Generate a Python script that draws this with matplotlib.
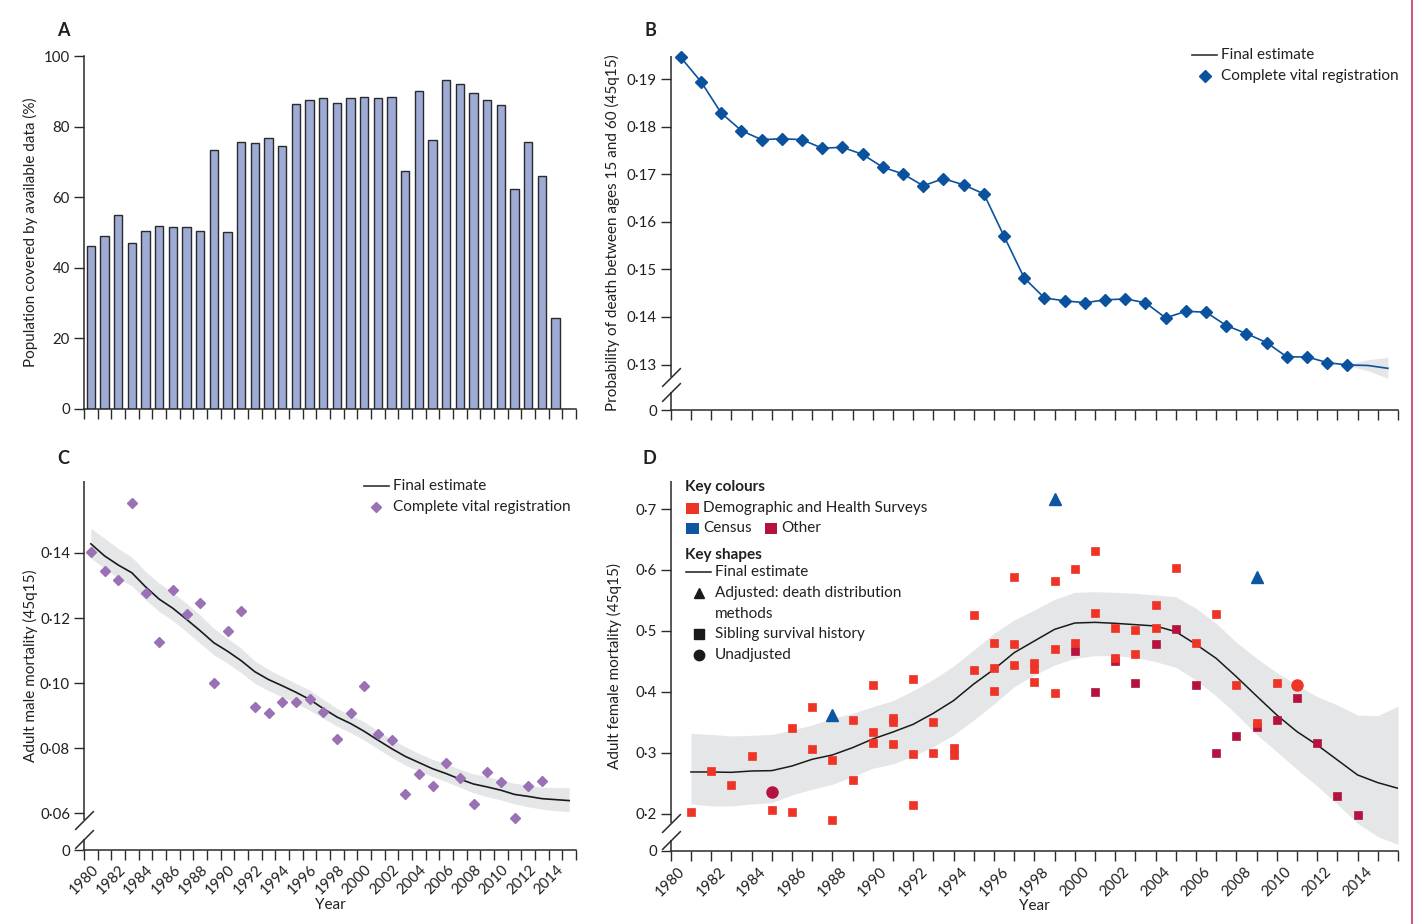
import matplotlib
matplotlib.use("Agg")
import matplotlib.pyplot as plt
from matplotlib.lines import Line2D
from matplotlib.patches import Rectangle

plt.rcParams['font.family'] = ['Lato', 'DejaVu Sans']

# ---------------- data ----------------
# Panel A: population covered by available data (%), 1980-2014
a_years = list(range(1980, 2015))
a_coverage = [46.0, 49.0, 55.0, 47.0, 50.3, 51.8, 51.4, 51.5, 50.3, 73.3,
              50.0, 75.5, 75.3, 76.7, 74.5, 86.3, 87.4, 88.0, 86.7, 88.2,
              88.5, 88.0, 88.3, 67.3, 90.2, 76.1, 93.3, 92.1, 89.4, 87.6,
              86.1, 62.3, 75.6, 66.0, 25.8]

# Panel B: 45q15 both sexes, complete vital registration & final estimate
b_vr_years = list(range(1980, 2014))
b_vr = [0.1946, 0.1895, 0.1829, 0.1792, 0.1773, 0.1775, 0.1773, 0.1755, 0.1757, 0.1742,
        0.1715, 0.1701, 0.1676, 0.1691, 0.1678, 0.1659, 0.1570, 0.1482, 0.1440, 0.1434,
        0.1430, 0.1436, 0.1438, 0.1430, 0.1398, 0.1412, 0.1410, 0.1382, 0.1365, 0.1346,
        0.1316, 0.1316, 0.1304, 0.1299]
b_est_years = list(range(1980, 2016))
b_est = [0.1946, 0.1895, 0.1829, 0.1792, 0.1773, 0.1775, 0.1773, 0.1755, 0.1757, 0.1742,
         0.1715, 0.1701, 0.1676, 0.1691, 0.1678, 0.1659, 0.1570, 0.1482, 0.1440, 0.1434,
         0.1430, 0.1436, 0.1438, 0.1430, 0.1398, 0.1412, 0.1410, 0.1382, 0.1365, 0.1346,
         0.1316, 0.1316, 0.1304, 0.1299, 0.1298, 0.1292]
b_band_years = [2013, 2014, 2015]
b_band_low = [0.1298, 0.1287, 0.1271]
b_band_high = [0.1300, 0.1310, 0.1315]

# Panel C: adult male mortality
c_vr_years = list(range(1980, 2014))
c_vr = [0.1402, 0.1344, 0.1316, 0.1552, 0.1276, 0.1127, 0.1287, 0.1212, 0.1246, 0.0999,
        0.1159, 0.1223, 0.0928, 0.0908, 0.0942, 0.0941, 0.0951, 0.0912, 0.0828, 0.0909,
        0.0992, 0.0843, 0.0826, 0.0658, 0.0720, 0.0685, 0.0755, 0.0707, 0.0630, 0.0727,
        0.0696, 0.0586, 0.0684, 0.0698]
c_est_years = list(range(1980, 2016))
c_est = [0.1428, 0.1391, 0.1363, 0.1339, 0.1296, 0.1258, 0.1230, 0.1196, 0.1161, 0.1124,
         0.1098, 0.1069, 0.1035, 0.1011, 0.0992, 0.0972, 0.0950, 0.0922, 0.0896, 0.0876,
         0.0852, 0.0825, 0.0799, 0.0775, 0.0756, 0.0737, 0.0722, 0.0705, 0.0690, 0.0681,
         0.0671, 0.0658, 0.0652, 0.0645, 0.0642, 0.0639]
c_upper = [0.1476, 0.1445, 0.1414, 0.1387, 0.1343, 0.1307, 0.1278, 0.1245, 0.1209, 0.1168,
           0.1137, 0.1107, 0.1068, 0.1042, 0.1020, 0.0999, 0.0979, 0.0950, 0.0923, 0.0902,
           0.0881, 0.0854, 0.0827, 0.0805, 0.0784, 0.0766, 0.0752, 0.0735, 0.0721, 0.0713,
           0.0702, 0.0692, 0.0687, 0.0680, 0.0679, 0.0679]
c_lower = [0.1384, 0.1353, 0.1322, 0.1299, 0.1256, 0.1220, 0.1192, 0.1158, 0.1122, 0.1087,
           0.1061, 0.1032, 0.0999, 0.0977, 0.0958, 0.0938, 0.0917, 0.0892, 0.0868, 0.0848,
           0.0825, 0.0798, 0.0772, 0.0748, 0.0730, 0.0713, 0.0697, 0.0680, 0.0663, 0.0651,
           0.0641, 0.0629, 0.0620, 0.0613, 0.0608, 0.0605]

# Panel D: adult female mortality
d_est_years = list(range(1981, 2017))
d_est = [0.2684, 0.2684, 0.2678, 0.2700, 0.2706, 0.2782, 0.2892, 0.2963, 0.3083, 0.3225,
         0.3340, 0.3466, 0.3647, 0.3855, 0.4128, 0.4369, 0.4642, 0.4834, 0.5025, 0.5129,
         0.5140, 0.5124, 0.5102, 0.5080, 0.4987, 0.4779, 0.4549, 0.4248, 0.3931, 0.3619,
         0.3346, 0.3127, 0.2881, 0.2635, 0.2509, 0.2416]
d_upper = [0.3318, 0.3300, 0.3275, 0.3286, 0.3300, 0.3373, 0.3455, 0.3565, 0.3647, 0.3756,
           0.3855, 0.4019, 0.4205, 0.4423, 0.4686, 0.4960, 0.5178, 0.5342, 0.5518, 0.5632,
           0.5643, 0.5632, 0.5616, 0.5589, 0.5561, 0.5370, 0.5124, 0.4812, 0.4549, 0.4314,
           0.4112, 0.3920, 0.3783, 0.3619, 0.3608, 0.3767]
d_lower = [0.2159, 0.2126, 0.2126, 0.2159, 0.2181, 0.2307, 0.2400, 0.2481, 0.2607, 0.2744,
           0.2815, 0.2946, 0.3100, 0.3291, 0.3537, 0.3800, 0.4084, 0.4276, 0.4440, 0.4549,
           0.4593, 0.4593, 0.4566, 0.4495, 0.4402, 0.4194, 0.3931, 0.3630, 0.3302, 0.3017,
           0.2728, 0.2454, 0.2154, 0.1842, 0.1623, 0.1497]
d_dhs_years = [1981, 1982, 1983, 1984, 1985, 1986, 1986, 1987, 1987, 1988, 1988, 1989, 1989,
               1990, 1990, 1990, 1991, 1991, 1991, 1992, 1992, 1992, 1993, 1993, 1994, 1994,
               1995, 1995, 1996, 1996, 1996, 1997, 1997, 1997, 1998, 1998, 1998, 1999, 1999,
               1999, 2000, 2000, 2001, 2001, 2002, 2002, 2003, 2003, 2004, 2004, 2005, 2006,
               2007, 2008, 2009, 2010]
d_dhs_vals = [0.2019, 0.2703, 0.2463, 0.2944, 0.2052, 0.2019, 0.3410, 0.3754, 0.3059, 0.2884,
              0.1893, 0.3530, 0.2560, 0.4110, 0.3344, 0.3152, 0.3563, 0.3510, 0.3150, 0.4203,
              0.2983, 0.2150, 0.3503, 0.2994, 0.3080, 0.2960, 0.5254, 0.4356, 0.4794, 0.4395,
              0.4017, 0.5878, 0.4783, 0.4438, 0.4477, 0.4378, 0.4159, 0.5818, 0.4696, 0.3979,
              0.6009, 0.4794, 0.6316, 0.5287, 0.5040, 0.4553, 0.5013, 0.4625, 0.5424, 0.5051,
              0.6026, 0.4805, 0.5276, 0.4105, 0.3481, 0.4137]
d_dhs_unadj_years = [2011]
d_dhs_unadj_vals = [0.4110]
d_other_years = [2000, 2001, 2002, 2003, 2004, 2005, 2006, 2007, 2008, 2009, 2010, 2011,
                 2012, 2013, 2014]
d_other_vals = [0.4674, 0.3990, 0.4504, 0.4137, 0.4783, 0.5024, 0.4110, 0.2999, 0.3273,
                0.3415, 0.3535, 0.3891, 0.3152, 0.2293, 0.1975]
d_other_unadj_years = [1985]
d_other_unadj_vals = [0.2359]
d_census_years = [1988, 1999, 2009]
d_census_vals = [0.3617, 0.7159, 0.5889]

year_labels = [str(y) if y % 2 == 0 and y <= 2014 else '' for y in range(1980, 2017)]

# ---------------- style ----------------
W, H = 1418, 924
TXT = '#231f20'
AX = '#2a2a2a'
BAR = '#9eabd5'
BLUE = '#0b529e'
PURPLE = '#9b71b6'
RED = '#ee3427'
CRIMSON = '#b5133f'
CENSUS = '#0d56a2'
BAND = '#e5e6e8'
FS = 11
TFS = 10.8

fig = plt.figure(figsize=(W / 100, H / 100), dpi=100)


def px_axes(left, top, right, bottom):
    return fig.add_axes([left / W, 1 - bottom / H, (right - left) / W, (bottom - top) / H])


def fx(x):
    return x / W


def fy(y):
    return 1 - y / H


def style(ax, ylo, yhi):
    ax.set_xlim(1980, 2016)
    ax.set_ylim(ylo, yhi)
    for s in ('top', 'right'):
        ax.spines[s].set_visible(False)
    for s in ('left', 'bottom'):
        ax.spines[s].set_color(AX)
        ax.spines[s].set_linewidth(1.1)
    ax.tick_params(axis='both', direction='out', length=7, width=1, color=AX,
                   labelsize=TFS, labelcolor=TXT, pad=3)
    ax.set_xticks(range(1980, 2017))
    ax.patch.set_alpha(0)


def broken_left(ax, ylo, yhi, off_low, off_high, height_px):
    ax.spines['left'].set_visible(False)
    ppu = height_px / (yhi - ylo)
    g1 = ylo + off_low / ppu
    g2 = ylo + off_high / ppu
    tr = ax.get_yaxis_transform()
    ax.plot([0, 0], [ylo, g1], transform=tr, color=AX, lw=1.1, clip_on=False,
            solid_capstyle='butt')
    ax.plot([0, 0], [g2, yhi], transform=tr, color=AX, lw=1.1, clip_on=False,
            solid_capstyle='butt')
    ax.plot([0, 0], [g1, g2], transform=tr, ls='none', marker=[(-1, -1), (1, 1)],
            ms=13.5, mec=AX, mew=1.1, clip_on=False)


def ylab(ax, text, xfrac):
    ax.set_ylabel(text, fontsize=FS, color=TXT)
    ax.yaxis.set_label_coords(xfrac, 0.5)
    ax.yaxis.label.set_va('center')


def xlab(ax, yfrac):
    ax.set_xlabel('Year', fontsize=FS, color=TXT)
    ax.xaxis.set_label_coords(0.5, yfrac)
    ax.xaxis.label.set_va('center')


def fmt(v, nd):
    return ('{:.%df}' % nd).format(v).replace('.', '\u00b7')


# ---------------- Panel A ----------------
axA = px_axes(84, 56, 576, 408.7)
style(axA, 0, 100)
axA.bar([y + 0.5 for y in a_years], a_coverage, width=0.6, color=BAR,
        edgecolor=AX, linewidth=1.0, zorder=2)
axA.set_yticks([0, 20, 40, 60, 80, 100])
axA.set_xticklabels([])
ylab(axA, 'Population covered by available data (%)', -54 / 492)
fig.text(fx(63), fy(30.5), 'A', fontsize=13, fontweight='bold', color=TXT,
         ha='center', va='center')

# ---------------- Panel B ----------------
bylo, byhi = 0.12043, 0.1949
axB = px_axes(670.7, 56, 1398, 410)
style(axB, bylo, byhi)
broken_left(axB, bylo, byhi, 18, 33.3, 354)
axB.fill_between([y + 0.5 for y in b_band_years], b_band_low, b_band_high,
                 color=BAND, lw=0, zorder=1)
axB.plot([y + 0.5 for y in b_est_years], b_est, color=BLUE, lw=1.2, zorder=2)
axB.plot([y + 0.5 for y in b_vr_years], b_vr, ls='none', marker='D', ms=5.9,
         color=BLUE, mec=BLUE, zorder=3, clip_on=False)
bt = [bylo, 0.13, 0.14, 0.15, 0.16, 0.17, 0.18, 0.19]
axB.set_yticks(bt)
axB.set_yticklabels(['0'] + [fmt(v, 2) for v in bt[1:]])
axB.set_xticklabels([])
ylab(axB, 'Probability of death between ages 15 and 60 (45q15)', -58 / 727.3)
fig.text(fx(650), fy(30.5), 'B', fontsize=13, fontweight='bold', color=TXT,
         ha='center', va='center')
# legend B
fig.add_artist(Line2D([fx(1192), fx(1217)], [fy(55), fy(55)], color='#333333', lw=1.2,
                      transform=fig.transFigure))
fig.text(fx(1221), fy(55), 'Final estimate', fontsize=FS, color=TXT, va='center')
fig.add_artist(Line2D([fx(1204.5)], [fy(76)], ls='none', marker='D', ms=5.9, color=BLUE,
                      transform=fig.transFigure))
fig.text(fx(1221), fy(76), 'Complete vital registration', fontsize=FS, color=TXT,
         va='center')

# ---------------- Panel C ----------------
cylo, cyhi = 0.04863, 0.1621
axC = px_axes(84, 481, 576, 850.3)
style(axC, cylo, cyhi)
broken_left(axC, cylo, cyhi, 11.3, 29.8, 369.3)
axC.fill_between([y + 0.5 for y in c_est_years], c_lower, c_upper, color=BAND, lw=0,
                 zorder=1)
axC.plot([y + 0.5 for y in c_est_years], c_est, color='#1a1a1a', lw=1.2, zorder=2)
axC.plot([y + 0.5 for y in c_vr_years], c_vr, ls='none', marker='D', ms=4.6,
         color=PURPLE, mec=PURPLE, zorder=3)
ct = [cylo, 0.06, 0.08, 0.10, 0.12, 0.14]
axC.set_yticks(ct)
axC.set_yticklabels(['0'] + [fmt(v, 2) for v in ct[1:]])
axC.set_xticklabels(year_labels, rotation=45, ha='center')
axC.tick_params(axis='x', pad=2)
ylab(axC, 'Adult male mortality (45q15)', -54 / 492)
xlab(axC, -(905 - 850.3) / 369.3)
fig.text(fx(63), fy(458.5), 'C', fontsize=13, fontweight='bold', color=TXT,
         ha='center', va='center')
fig.add_artist(Line2D([fx(364), fx(389)], [fy(486), fy(486)], color='#333333', lw=1.2,
                      transform=fig.transFigure))
fig.text(fx(393), fy(486), 'Final estimate', fontsize=FS, color=TXT, va='center')
fig.add_artist(Line2D([fx(376.5)], [fy(507)], ls='none', marker='D', ms=5.2, color=PURPLE,
                      transform=fig.transFigure))
fig.text(fx(393), fy(507), 'Complete vital registration', fontsize=FS, color=TXT,
         va='center')

# ---------------- Panel D ----------------
dylo, dyhi = 0.1387, 0.746
axD = px_axes(670.7, 481, 1398, 851)
style(axD, dylo, dyhi)
broken_left(axD, dylo, dyhi, 11, 28.5, 370)
axD.fill_between(d_est_years, d_lower, d_upper, color=BAND, lw=0, zorder=1)
axD.plot(d_est_years, d_est, color='#1a1a1a', lw=1.1, zorder=2)
axD.plot(d_other_years, d_other_vals, ls='none', marker='s', ms=6.4, color=CRIMSON,
         mec=CRIMSON, mew=0.5, zorder=3)
axD.plot(d_dhs_years, d_dhs_vals, ls='none', marker='s', ms=6.4, color=RED,
         mec=RED, mew=0.5, zorder=4)
axD.plot(d_other_unadj_years, d_other_unadj_vals, ls='none', marker='o', ms=8,
         color=CRIMSON, zorder=5)
axD.plot(d_dhs_unadj_years, d_dhs_unadj_vals, ls='none', marker='o', ms=8,
         color=RED, zorder=5)
axD.plot(d_census_years, d_census_vals, ls='none', marker='^', ms=8.5,
         color=CENSUS, zorder=5)
dt = [dylo, 0.2, 0.3, 0.4, 0.5, 0.6, 0.7]
axD.set_yticks(dt)
axD.set_yticklabels(['0'] + [fmt(v, 1) for v in dt[1:]])
axD.set_xticklabels(year_labels, rotation=45, ha='center')
axD.tick_params(axis='x', pad=3)
ylab(axD, 'Adult female mortality (45q15)', -56 / 727.3)
xlab(axD, -(906 - 851) / 370)
fig.text(fx(649), fy(458.5), 'D', fontsize=13, fontweight='bold', color=TXT,
         ha='center', va='center')

# legend D
fig.text(fx(685), fy(487), 'Key colours', fontsize=FS, fontweight='bold', color=TXT,
         va='center')
for (x0, y0, col) in [(686, 508, RED), (686, 528.5, CENSUS), (764.5, 528.5, CRIMSON)]:
    fig.add_artist(Rectangle((fx(x0), fy(y0 + 5.5)), 12.5 / W, 11 / H, color=col,
                             transform=fig.transFigure, lw=0))
fig.text(fx(703), fy(508), 'Demographic and Health Surveys', fontsize=FS, color=TXT,
         va='center')
fig.text(fx(703), fy(528.5), 'Census', fontsize=FS, color=TXT, va='center')
fig.text(fx(781), fy(528.5), 'Other', fontsize=FS, color=TXT, va='center')
fig.text(fx(685), fy(555), 'Key shapes', fontsize=FS, fontweight='bold', color=TXT,
         va='center')
fig.add_artist(Line2D([fx(686), fx(711)], [fy(572), fy(572)], color='#1a1a1a', lw=1.1,
                      transform=fig.transFigure))
fig.text(fx(715), fy(572), 'Final estimate', fontsize=FS, color=TXT, va='center')
fig.add_artist(Line2D([fx(698.5)], [fy(593)], ls='none', marker='^', ms=7.5, color='#1a1a1a',
                      transform=fig.transFigure))
fig.text(fx(715), fy(593), 'Adjusted: death distribution', fontsize=FS, color=TXT,
         va='center')
fig.text(fx(715), fy(613.5), 'methods', fontsize=FS, color=TXT, va='center')
fig.add_artist(Line2D([fx(698.5)], [fy(634)], ls='none', marker='s', ms=6.5, color='#1a1a1a',
                      transform=fig.transFigure))
fig.text(fx(715), fy(634), 'Sibling survival history', fontsize=FS, color=TXT, va='center')
fig.add_artist(Line2D([fx(698.5)], [fy(655)], ls='none', marker='o', ms=7.5, color='#1a1a1a',
                      transform=fig.transFigure))
fig.text(fx(715), fy(655), 'Unadjusted', fontsize=FS, color=TXT, va='center')

# page border line at right edge
fig.add_artist(Line2D([fx(1412), fx(1412)], [0, 1], color='#c43a6e', lw=1.2,
                      transform=fig.transFigure))

fig.savefig('out.png', dpi=100)
